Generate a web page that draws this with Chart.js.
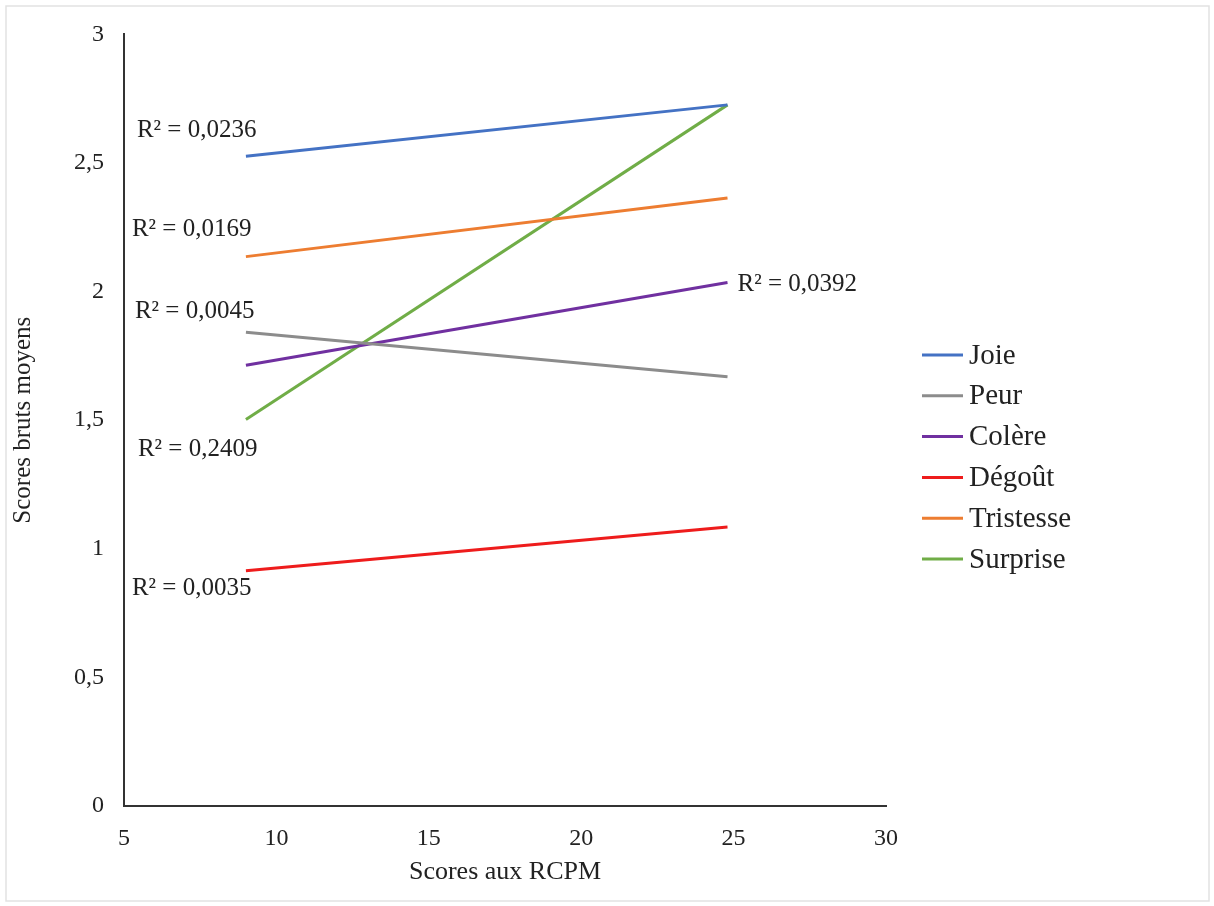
<!DOCTYPE html>
<html>
<head>
<meta charset="utf-8">
<script src="https://cdn.jsdelivr.net/npm/chart.js@4.4.0/dist/chart.umd.min.js"></script>
<style>
  html, body { margin: 0; padding: 0; background: #fff; }
  #wrap { width: 1214px; height: 906px; position: relative; }
</style>
</head>
<body>
<div id="wrap"><canvas id="myChart" width="1214" height="906"></canvas></div>
<script>
// RCPM scores where each trend line starts and ends
const rcpm = [9, 24.8];

// mean raw scores per emotion (trend line ends)
const joie = [2.526, 2.726];
const peur = [1.842, 1.669];
const colere = [1.714, 2.035];
const degout = [0.915, 1.085];
const tristesse = [2.136, 2.364];
const surprise = [1.503, 2.726];

const labels = ['Joie', 'Peur', 'Colère', 'Dégoût', 'Tristesse', 'Surprise'];
const colors = ['#4472c4', '#8c8c8c', '#7030a0', '#ee1c1c', '#ed7d31', '#70ad47'];
const r2Labels = ['R² = 0,0236', 'R² = 0,0045', 'R² = 0,0392', 'R² = 0,0035', 'R² = 0,0169', 'R² = 0,2409'];

const serif = "'Liberation Serif', 'Times New Roman', serif";
const ink = '#222';

const series = [joie, peur, colere, degout, tristesse, surprise];

const datasets = series.map((vals, i) => ({
	label: labels[i],
	data: vals.map((v, j) => ({ x: rcpm[j], y: v })),
	borderColor: colors[i],
	backgroundColor: colors[i],
	borderWidth: 3,
	pointRadius: 0,
	showLine: true
}));

// where each R² label sits relative to its line: which end, pixel offset
const r2Place = [
	{ end: 0, dx: -109, dy: -26 },
	{ end: 0, dx: -111, dy: -21 },
	{ end: 1, dx: 10, dy: 2 },
	{ end: 0, dx: -114, dy: 18 },
	{ end: 0, dx: -114, dy: -27 },
	{ end: 0, dx: -108, dy: 30 }
];

const extras = {
	id: 'extras',
	afterDraw(chart) {
		const c = chart.ctx;
		const xs = chart.scales.x;
		const ys = chart.scales.y;
		c.save();

		// R² labels
		c.font = '25px ' + serif;
		c.fillStyle = ink;
		c.textAlign = 'left';
		c.textBaseline = 'middle';
		series.forEach((vals, i) => {
			const p = r2Place[i];
			const px = xs.getPixelForValue(rcpm[p.end]);
			const py = ys.getPixelForValue(vals[p.end]);
			c.fillText(r2Labels[i], px + p.dx, py + p.dy);
		});

		// legend on the right
		c.font = '29px ' + serif;
		labels.forEach((lab, i) => {
			const y = 355 + i * 40.8;
			c.strokeStyle = colors[i];
			c.lineWidth = 3;
			c.beginPath();
			c.moveTo(922, y);
			c.lineTo(963, y);
			c.stroke();
			c.fillStyle = ink;
			c.fillText(lab, 969, y + 1);
		});

		// thin frame round the figure
		c.strokeStyle = '#e2e2e2';
		c.lineWidth = 1.5;
		c.strokeRect(6, 6, 1203, 895);
		c.restore();
	}
};

const ctx = document.getElementById('myChart');
new Chart(ctx, {
	type: 'scatter',
	data: { datasets },
	options: {
		responsive: false,
		animation: false,
		layout: { padding: { top: 30, right: 328, bottom: 0, left: 0 } },
		plugins: {
			legend: { display: false },
			tooltip: { enabled: false }
		},
		scales: {
			x: {
				type: 'linear',
				min: 5,
				max: 30,
				ticks: {
					stepSize: 5,
					padding: 18,
					color: ink,
					font: { family: serif, size: 24 }
				},
				grid: { display: false, drawTicks: false },
				border: { display: true, color: '#333', width: 2 },
				title: {
					display: true,
					text: 'Scores aux RCPM',
					color: ink,
					font: { family: serif, size: 26 },
					padding: { top: 0, bottom: 18 }
				},
				afterFit(scale) { scale.height = 100; }
			},
			y: {
				min: 0,
				max: 3,
				ticks: {
					stepSize: 0.5,
					padding: 20,
					color: ink,
					font: { family: serif, size: 24 },
					callback: v => String(v).replace('.', ',')
				},
				grid: { display: false, drawTicks: false },
				border: { display: true, color: '#333', width: 2 },
				title: {
					display: true,
					text: 'Scores bruts moyens',
					color: ink,
					font: { family: serif, size: 25 },
					padding: { top: 8, bottom: 0 }
				},
				afterFit(scale) { scale.width = 124; }
			}
		}
	},
	plugins: [extras]
});
</script>
</body>
</html>
